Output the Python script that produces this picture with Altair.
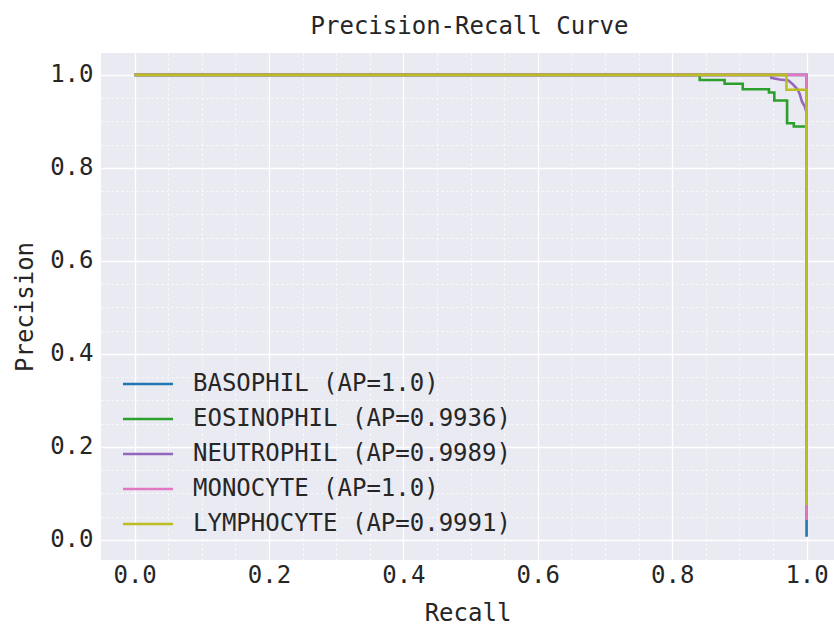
import altair as alt
import pandas as pd

# ---- data ----
labels = [
    "BASOPHIL (AP=1.0)",
    "EOSINOPHIL (AP=0.9936)",
    "NEUTROPHIL (AP=0.9989)",
    "MONOCYTE (AP=1.0)",
    "LYMPHOCYTE (AP=0.9991)",
]
colors = ["#1f77b4", "#2ca02c", "#9467bd", "#e377c2", "#bcbd22"]

basophil_recall = [0.0, 1.0, 1.0]
basophil_precision = [1.0, 1.0, 0.007]

eosinophil_recall = [0.0, 0.841, 0.841, 0.878, 0.878, 0.905, 0.905, 0.944, 0.944,
                     0.952, 0.952, 0.971, 0.971, 0.981, 0.981, 1.0, 1.0]
eosinophil_precision = [1.0, 1.0, 0.989, 0.989, 0.981, 0.981, 0.969, 0.969, 0.962,
                        0.962, 0.945, 0.945, 0.896, 0.896, 0.889, 0.889, 0.25]

neutrophil_recall = [0.0, 0.947, 0.9475, 0.960, 0.973, 0.980, 0.987, 0.990, 0.993,
                     0.997, 1.0, 1.0]
neutrophil_precision = [1.0, 1.0, 0.9935, 0.990, 0.988, 0.979, 0.968, 0.958, 0.943,
                        0.933, 0.919, 0.25]

monocyte_recall = [0.0, 1.0, 1.0]
monocyte_precision = [1.0, 1.0, 0.043]

lymphocyte_recall = [0.0, 0.970, 0.970, 1.0, 1.0]
lymphocyte_precision = [1.0, 1.0, 0.968, 0.968, 0.075]

major_ticks = [0.0, 0.2, 0.4, 0.6, 0.8, 1.0]
minor_ticks = [0.05, 0.1, 0.15, 0.25, 0.3, 0.35, 0.45, 0.5, 0.55,
               0.65, 0.7, 0.75, 0.85, 0.9, 0.95]
all_ticks = sorted(major_ticks + minor_ticks)

series = [
    (labels[0], basophil_recall, basophil_precision),
    (labels[1], eosinophil_recall, eosinophil_precision),
    (labels[2], neutrophil_recall, neutrophil_precision),
    (labels[3], monocyte_recall, monocyte_precision),
    (labels[4], lymphocyte_recall, lymphocyte_precision),
]

FONT = "DejaVu Sans Mono"
TXT = "#262626"
FS = 24

minor_test = "round(datum.value*100) % 20 != 0"


def make_axis(title, label_pad, title_pad):
    return alt.Axis(
        title=title,
        values=all_ticks,
        labelExpr="round(datum.value*100) % 20 == 0 ? format(datum.value, '.1f') : ''",
        grid=True,
        gridColor="white",
        gridWidth={"condition": {"test": minor_test, "value": 0.8}, "value": 1.3},
        gridDash={"condition": {"test": minor_test, "value": [2, 3]}, "value": []},
        ticks=False,
        tickSize=0,
        domain=False,
        labelPadding=label_pad,
        titlePadding=title_pad,
        labelFont=FONT,
        labelFontSize=FS,
        labelColor=TXT,
        titleFont=FONT,
        titleFontSize=FS,
        titleFontWeight="normal",
        titleColor=TXT,
    )


xscale = alt.Scale(domain=[-0.05, 1.0408], nice=False, zero=False)
yscale = alt.Scale(domain=[-0.043, 1.047], nice=False, zero=False)
cscale = alt.Scale(domain=labels, range=colors)

layers = []
for i, (lab, rec, prec) in enumerate(series):
    df = pd.DataFrame({"recall": rec, "precision": prec, "label": lab,
                       "idx": list(range(len(rec)))})
    enc = dict(
        x=alt.X("recall:Q", scale=xscale, axis=make_axis("Recall", 3, 14)),
        y=alt.Y("precision:Q", scale=yscale, axis=make_axis("Precision", 8, 12)),
        color=alt.Color(
            "label:N",
            scale=cscale,
            legend=alt.Legend(
                title=None,
                orient="none",
                legendX=28,
                legendY=312,
                symbolType="M-1.43,0H1.43",
                symbolSize=1225,
                symbolStrokeWidth=2.6,
                labelFont=FONT,
                labelFontSize=FS,
                labelColor=TXT,
                labelOffset=26,
                rowPadding=4,
                padding=0,
                labelLimit=500,
            ),
        ),
        order=alt.Order("idx:Q"),
    )
    layers.append(alt.Chart(df).mark_line(strokeWidth=2.6).encode(**enc))

chart = (
    alt.layer(*layers)
    .properties(
        width=733,
        height=507,
        autosize=alt.AutoSizeParams(type="none"),
        padding={"left": 101, "top": 53, "right": 0, "bottom": 66},
        background="white",
        title=alt.TitleParams(
            "Precision-Recall Curve",
            font=FONT,
            fontSize=FS,
            fontWeight="normal",
            color=TXT,
            offset=14,
            dx=2,
        ),
    )
    .configure_view(fill="#eaeaf2", stroke=None)
    .configure_legend(rowPadding=4)
)

chart.save("out.html", embed_options={"renderer": "svg", "actions": False})
